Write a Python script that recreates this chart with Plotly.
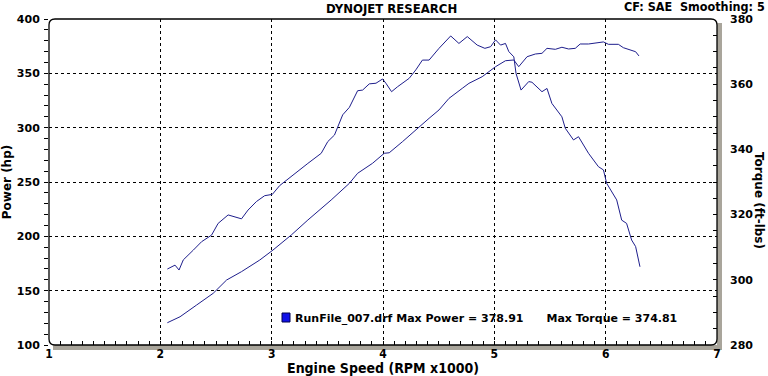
import plotly.graph_objects as go

# ---- data ----
rpm_power = [2.063, 2.177, 2.326, 2.475, 2.595, 2.729, 2.893, 3.012, 3.176, 3.325,
             3.534, 3.698, 3.772, 3.906, 4.011, 4.056, 4.175, 4.324, 4.414, 4.503,
             4.593, 4.712, 4.772, 4.891, 5.011, 5.100, 5.175, 5.219, 5.294, 5.369,
             5.428, 5.473, 5.548, 5.607, 5.667, 5.727, 5.771, 5.846, 5.906, 5.980,
             6.025, 6.114, 6.159, 6.233, 6.269, 6.299]
power_hp = [120.5, 126.0, 136.8, 147.6, 159.8, 167.5, 178.2, 187.4, 201.2, 215.0,
            233.4, 248.8, 258.0, 267.2, 276.4, 276.9, 287.1, 300.9, 308.6, 316.3,
            327.0, 336.2, 340.8, 346.9, 356.1, 361.6, 362.3, 356.1, 365.3, 367.8,
            368.4, 373.0, 372.1, 374.0, 372.4, 373.0, 377.0, 377.0, 377.6, 378.9,
            376.7, 376.7, 373.6, 371.5, 369.9, 366.0]

rpm_torque = [2.063, 2.132, 2.168, 2.206, 2.296, 2.371, 2.460, 2.519, 2.609, 2.729,
              2.788, 2.863, 2.937, 3.006, 3.072, 3.221, 3.325, 3.445, 3.504, 3.564,
              3.638, 3.698, 3.772, 3.817, 3.877, 3.937, 3.996, 4.026, 4.077, 4.130,
              4.235, 4.295, 4.354, 4.414, 4.503, 4.608, 4.682, 4.757, 4.846, 4.915,
              4.966, 5.011, 5.056, 5.100, 5.130, 5.175, 5.195, 5.240, 5.309, 5.338,
              5.428, 5.473, 5.517, 5.607, 5.637, 5.711, 5.756, 5.846, 5.935, 5.980,
              6.009, 6.099, 6.144, 6.188, 6.233, 6.269, 6.308]
torque_ftlb = [303.3, 304.5, 303.0, 306.1, 309.1, 311.7, 313.7, 317.3, 319.9, 318.7,
               321.4, 324.0, 325.8, 326.2, 328.9, 333.0, 335.7, 338.8, 342.4, 344.4,
               350.6, 352.9, 358.0, 358.2, 360.1, 360.3, 361.6, 360.3, 357.7, 359.2,
               361.8, 364.4, 367.4, 367.4, 371.0, 374.8, 372.5, 374.6, 372.0, 371.0,
               371.5, 373.6, 372.0, 372.5, 370.0, 368.4, 363.3, 358.2, 360.8, 360.6,
               357.7, 358.7, 354.1, 350.0, 346.5, 342.9, 343.9, 338.8, 334.7, 333.7,
               329.6, 324.5, 318.3, 317.3, 312.2, 310.2, 304.0]

x_ticks = [1, 2, 3, 4, 5, 6, 7]
power_ticks = [100, 150, 200, 250, 300, 350, 400]
torque_ticks = [280, 300, 320, 340, 360, 380]

title_text = "DYNOJET RESEARCH"
info_text = "CF: SAE&nbsp;&nbsp;Smoothing: 5"
legend_text = "RunFile_007.drf Max Power = 378.91&nbsp;&nbsp;&nbsp;&nbsp;&nbsp;&nbsp;Max Torque = 374.81"

# ---- styling ----
LINE = "#1e1e8c"
W, H = 768, 376
ML, MR, MT, MB = 49, 51, 19, 31
PW, PH = W - ML - MR, H - MT - MB
VERD = "DejaVu Sans"
NARROW = "DejaVu Sans Condensed"
SHADOW = "#a9a59b"

fig = go.Figure()
fig.add_trace(go.Scatter(x=rpm_power, y=power_hp, mode="lines",
                         line=dict(color=LINE, width=1), yaxis="y", hoverinfo="skip"))
fig.add_trace(go.Scatter(x=rpm_torque, y=torque_ftlb, mode="lines",
                         line=dict(color=LINE, width=1), yaxis="y2", hoverinfo="skip"))

grid = dict(showgrid=True, gridcolor="black", gridwidth=1, griddash="3px,3px")

fig.update_layout(
    width=W, height=H,
    margin=dict(l=ML, r=MR, t=MT, b=MB, autoexpand=False),
    paper_bgcolor="white", plot_bgcolor="white",
    showlegend=False,
    xaxis=dict(range=[1, 7], tickvals=x_ticks, ticktext=[str(v) for v in x_ticks],
               ticks="inside", ticklen=4, tickcolor="black", showline=False, zeroline=False,
               automargin=False,
               minor=dict(dtick=0.1, ticks="inside", ticklen=4, tickcolor="black", showgrid=False),
               tickfont=dict(family=NARROW, size=12, color="black", weight="bold"),
               ticklabelstandoff=0,
               title=dict(text="Engine Speed (RPM x1000)", standoff=0,
                          font=dict(family=NARROW, size=14, color="black", weight="bold")),
               **grid),
    yaxis=dict(range=[100, 400], tickvals=power_ticks, ticks="outside", ticklen=4,
               tickcolor="black", showline=False, zeroline=False, automargin=False,
               minor=dict(dtick=10, ticks="outside", ticklen=4, tickcolor="black", showgrid=False),
               tickfont=dict(family=VERD, size=11, color="black", weight="bold"),
               ticklabelstandoff=2,
               title=dict(text="Power (hp)", standoff=2,
                          font=dict(family=VERD, size=12, color="black", weight="bold")),
               **grid),
    yaxis3=dict(range=[100, 400], overlaying="y", side="left", tickvals=power_ticks,
                ticks="inside", ticklen=3, tickcolor="black", showticklabels=False,
                showgrid=False, zeroline=False, showline=False, automargin=False,
                minor=dict(dtick=10, ticks="inside", ticklen=3, tickcolor="black")),
    yaxis2=dict(range=[280, 380], overlaying="y", side="right", tickvals=torque_ticks,
                ticks="inside", ticklen=4, tickcolor="black", showgrid=False,
                zeroline=False, showline=False, automargin=False,
                minor=dict(dtick=5, ticks="inside", ticklen=4, tickcolor="black", showgrid=False),
                tickfont=dict(family=VERD, size=11, color="black", weight="bold"),
                ticklabelstandoff=12),
)

# grey shadow strips (right and bottom of the frame)
sx, sy = 5 / PW, 5 / PH
fig.add_shape(type="rect", xref="paper", yref="paper",
              x0=1, x1=1 + sx, y0=-sy, y1=1 - 4 / PH,
              fillcolor=SHADOW, line=dict(width=0), layer="below")
fig.add_shape(type="rect", xref="paper", yref="paper",
              x0=4 / PW, x1=1 + sx, y0=-sy, y1=0,
              fillcolor=SHADOW, line=dict(width=0), layer="below")

# rounded black frame
rx, ry = 6 / PW, 6 / PH
path = (f"M {rx},0 L {1 - rx},0 Q 1,0 1,{ry} L 1,{1 - ry} Q 1,1 {1 - rx},1 "
        f"L {rx},1 Q 0,1 0,{1 - ry} L 0,{ry} Q 0,0 {rx},0 Z")
fig.add_shape(type="path", xref="paper", yref="paper", path=path,
              line=dict(color="black", width=1.3), layer="above")

# texts
fig.add_annotation(text=title_text, xref="paper", yref="paper",
                   x=(391 - ML) / PW, y=1 + (MT - 9) / PH, xanchor="center", yanchor="middle",
                   showarrow=False, font=dict(family=NARROW, size=13, color="black", weight="bold"))
fig.add_annotation(text=info_text, xref="paper", yref="paper",
                   x=(767 - ML) / PW, y=1 + (MT - 6.5) / PH, xanchor="right", yanchor="middle",
                   showarrow=False, font=dict(family=NARROW, size=12.5, color="black", weight="bold"))
fig.add_annotation(text="Torque (ft-lbs)", xref="paper", yref="paper",
                   x=(759 - ML) / PW, y=(MT + PH - 200) / PH, textangle=90,
                   xanchor="center", yanchor="middle", showarrow=False,
                   font=dict(family=VERD, size=12, color="black", weight="bold"))
# legend marker + text
fig.add_shape(type="rect", xref="paper", yref="paper",
              x0=(282 - ML) / PW, x1=(290 - ML) / PW,
              y0=(MT + PH - 322) / PH, y1=(MT + PH - 313) / PH,
              fillcolor="#1010e8", line=dict(color="#000050", width=1), layer="above")
fig.add_annotation(text=legend_text, xref="paper", yref="paper",
                   x=(293 - ML) / PW, y=(MT + PH - 318) / PH, xanchor="left", yanchor="middle",
                   showarrow=False, font=dict(family=VERD, size=11, color="black", weight="bold"))

fig.write_html("out.html", config={"displayModeBar": False},
               post_script="document.body.style.margin='0';document.body.style.overflow='hidden';")
